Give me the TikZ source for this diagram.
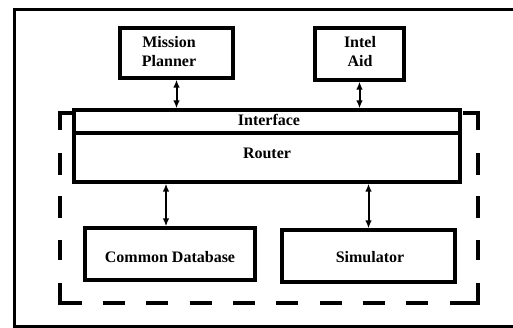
\documentclass[tikz,border=0pt]{standalone}
\usepackage{fontspec}
\setmainfont{Liberation Serif}
\usetikzlibrary{arrows.meta}
\begin{document}
\begin{tikzpicture}[x=1pt,y=-1pt,
  box/.style={draw, line width=3.2pt, fill=white, inner sep=0pt},
  lbl/.style={font=\fontsize{16}{19}\selectfont\bfseries, align=center, inner sep=0pt},
  link/.style={line width=2pt, {Latex[length=8pt,width=6.5pt]}-{Latex[length=8pt,width=6.5pt]}},
  frame/.style={line width=3pt},
  dashfr/.style={line width=3.6pt}]
\useasboundingbox (0,0) rectangle (513,328);

% outer border (open on the right)
\draw[frame] (513,10) -- (14,10) -- (14,326) -- (513,326);

% dashed enclosure: solid corners, dashed sides
\draw[dashfr] (72,113) -- (60,113) -- (60,130);
\draw[dashfr] (463,113) -- (478,113) -- (478,130);
\draw[dashfr] (60,283) -- (60,303) -- (82,303);
\draw[dashfr] (450,303) -- (478,303) -- (478,283);
\draw[dashfr, dash pattern=on 22 off 21.5] (60,153) -- (60,260);
\draw[dashfr, dash pattern=on 22 off 21.5] (478,153) -- (478,260);
\draw[dashfr, dash pattern=on 22 off 21.3] (103,303) -- (428,303);

% boxes
\node[box, minimum width=113, minimum height=50] (mp) at (176.5,53) {};
\node[box, minimum width=89, minimum height=52] (ia) at (359.5,54) {};
\node[box, minimum width=386, minimum height=23] (iface) at (267,121.5) {};
\node[box, minimum width=386, minimum height=49] (router) at (267,157.5) {};
\node[box, minimum width=170, minimum height=52] (cdb) at (170,254) {};
\node[box, minimum width=173, minimum height=52] (sim) at (368.5,256) {};

% labels
\node[lbl] (mpt) at (169,52) {Mission\\Planner};
\node[lbl] (iat) at (360,51.5) {Intel\\Aid};
\node[lbl, anchor=base] (ifacet) at (269,126) {Interface};
\node[lbl, anchor=base] (routert) at (267,159) {Router};
\node[lbl, anchor=base] (cdbt) at (170,262) {Common Database};
\node[lbl, anchor=base] (simt) at (370,262) {Simulator};

% connectors
\draw[link] (mp.south) -- (mp.south |- iface.north);
\draw[link] (ia.south) -- (ia.south |- iface.north);
\draw[link] ([xshift=-4]cdb.north |- router.south) -- ([xshift=-4]cdb.north);
\draw[link] (sim.north |- router.south) -- (sim.north);
\end{tikzpicture}
\end{document}
